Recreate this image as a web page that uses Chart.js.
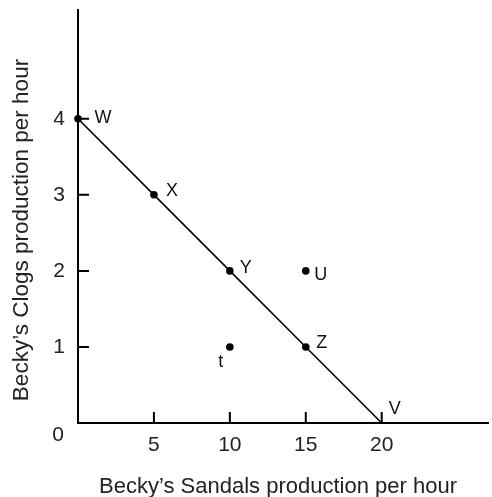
<!DOCTYPE html>
<html>
<head>
<meta charset="utf-8">
<script src="https://cdn.jsdelivr.net/npm/chart.js@4.4.1/dist/chart.umd.min.js"></script>
<style>
  html, body { margin: 0; padding: 0; background: #ffffff; }
  #wrap { position: relative; width: 492px; height: 497px; }
</style>
</head>
<body>
<div id="wrap"><canvas id="ppfChart"></canvas></div>
<script>
// Production possibilities frontier points (sandals, clogs)
const ppfLabels = ['W', 'X', 'Y', 'Z', 'V'];
const ppfSandals = [0, 5, 10, 15, 20];
const ppfClogs = [4, 3, 2, 1, 0];

// Points off the frontier
const offLabels = ['U', 't'];
const offSandals = [15, 10];
const offClogs = [2, 1];

// Axis ticks
const xTicks = [5, 10, 15, 20];
const yTicks = [1, 2, 3, 4];
const xTitle = 'Becky\u2019s Sandals production per hour';
const yTitle = 'Becky\u2019s Clogs production per hour';
const originLabel = '0';

// Label placement relative to each point (px)
const labelOffsets = {
  W: [25, -1], X: [18, -4], Y: [16, -3], Z: [16, -4],
  V: [13, -14], U: [15, 4], t: [-9, 15]
};

Chart.defaults.font.family = "Arial, 'Liberation Sans', sans-serif";
Chart.defaults.color = '#222';

// Draws inner tick marks, point letters, origin and axis titles
const annotations = {
  id: 'annotations',
  afterDraw(chart) {
    const { ctx, chartArea, scales: { x, y } } = chart;
    ctx.save();

    // tick marks pointing into the plot
    ctx.strokeStyle = '#000';
    ctx.lineWidth = 2;
    ctx.beginPath();
    xTicks.forEach(v => {
      const px = x.getPixelForValue(v);
      ctx.moveTo(px, chartArea.bottom);
      ctx.lineTo(px, chartArea.bottom - 11);
    });
    yTicks.forEach(v => {
      const py = y.getPixelForValue(v);
      ctx.moveTo(chartArea.left, py);
      ctx.lineTo(chartArea.left + 11, py);
    });
    ctx.stroke();

    // point letters
    ctx.fillStyle = '#111';
    ctx.font = "18px Arial, 'Liberation Sans', sans-serif";
    ctx.textAlign = 'center';
    ctx.textBaseline = 'middle';
    const putLabel = (name, sx, cy) => {
      const off = labelOffsets[name] || [12, 0];
      ctx.fillText(name, x.getPixelForValue(sx) + off[0], y.getPixelForValue(cy) + off[1]);
    };
    ppfLabels.forEach((n, i) => putLabel(n, ppfSandals[i], ppfClogs[i]));
    offLabels.forEach((n, i) => putLabel(n, offSandals[i], offClogs[i]));

    // origin
    ctx.fillStyle = '#222';
    ctx.font = "21px Arial, 'Liberation Sans', sans-serif";
    ctx.fillText(originLabel, chartArea.left - 20, chartArea.bottom + 12);

    // axis titles
    ctx.font = "22px Arial, 'Liberation Sans', sans-serif";
    ctx.textBaseline = 'alphabetic';
    ctx.fillText(xTitle, chartArea.left + 200, chartArea.bottom + 70);

    ctx.font = "22.5px Arial, 'Liberation Sans', sans-serif";
    ctx.translate(chartArea.left - 50, chartArea.top + 220);
    ctx.rotate(-Math.PI / 2);
    ctx.fillText(yTitle, 0, 0);

    ctx.restore();
  }
};

function toPoints(xs, ys) {
  return xs.map((v, i) => ({ x: v, y: ys[i] }));
}

function noEdgePadding(scale) {
  scale.paddingTop = 0;
  scale.paddingBottom = 0;
  scale.paddingLeft = 0;
  scale.paddingRight = 0;
}

const ctx = document.getElementById('ppfChart').getContext('2d');
new Chart(ctx, {
  type: 'scatter',
  data: {
    datasets: [
      {
        label: 'Frontier',
        data: toPoints(ppfSandals, ppfClogs),
        showLine: true,
        borderColor: '#000',
        borderWidth: 1.6,
        backgroundColor: '#000',
        pointRadius: ppfLabels.map(n => (n === 'V' ? 0 : 3.8)),
        pointBorderWidth: 0,
        clip: false
      },
      {
        label: 'Other',
        data: toPoints(offSandals, offClogs),
        showLine: false,
        backgroundColor: '#000',
        borderColor: '#000',
        pointRadius: 3.8,
        pointBorderWidth: 0,
        clip: false
      }
    ]
  },
  options: {
    responsive: true,
    maintainAspectRatio: false,
    animation: false,
    layout: { padding: { top: 10, right: 0, left: 0, bottom: 0 } },
    plugins: {
      legend: { display: false },
      tooltip: { enabled: false }
    },
    scales: {
      x: {
        type: 'linear',
        min: 0,
        max: 27,
        afterBuildTicks: scale => { scale.ticks = xTicks.map(v => ({ value: v })); },
        afterFit: scale => { scale.height = 74; noEdgePadding(scale); },
        ticks: { padding: 10, font: { size: 21 }, color: '#222' },
        grid: { display: true, drawOnChartArea: false, drawTicks: false },
        border: { display: true, color: '#000', width: 2 }
      },
      y: {
        type: 'linear',
        min: 0,
        max: 5.43,
        afterBuildTicks: scale => { scale.ticks = yTicks.map(v => ({ value: v })); },
        afterFit: scale => { scale.width = 78; noEdgePadding(scale); },
        ticks: { padding: 13, font: { size: 21 }, color: '#222' },
        grid: { display: true, drawOnChartArea: false, drawTicks: false },
        border: { display: true, color: '#000', width: 2 }
      }
    }
  },
  plugins: [annotations]
});
</script>
</body>
</html>
